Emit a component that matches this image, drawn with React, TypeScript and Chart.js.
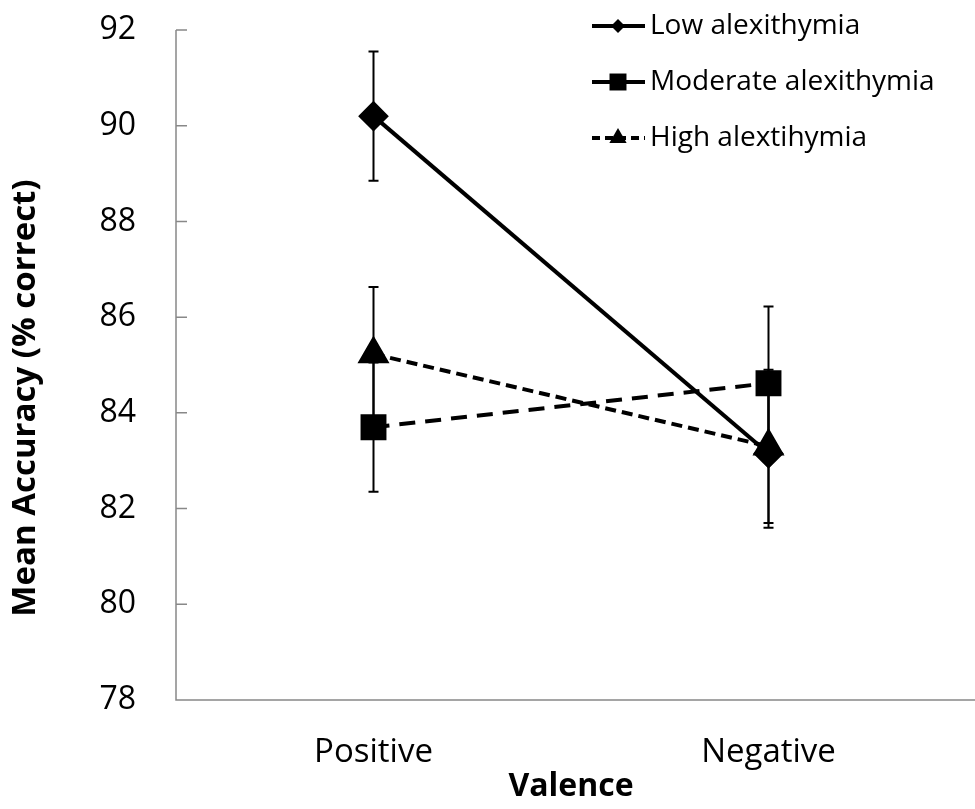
import React, { useRef, useEffect } from 'react';
import { Chart, registerables } from 'chart.js';
import { drawPoint } from 'chart.js/helpers';

Chart.register(...registerables);

const valence = ['Positive', 'Negative'];
const lowMeans = [90.2, 83.15];
const lowErr = [1.35, 1.55];
const moderateMeans = [83.7, 84.62];
const moderateErr = [1.35, 1.6];
const highMeans = [85.23, 83.3];
const highErr = [1.4, 1.6];
const yTicks = [78, 80, 82, 84, 86, 88, 90, 92];

const FONT = "'Open Sans', 'Liberation Sans', sans-serif";
const AXIS_GREY = '#888888';
const Y_TITLE = 'Mean Accuracy (% correct)';

const legendItems = [
  { label: 'Low alexithymia', style: 'rectRot', radius: 7, dash: [] as number[] },
  { label: 'Moderate alexithymia', style: 'rect', radius: 12, dash: [] as number[] },
  { label: 'High alextihymia', style: 'triangle', radius: 10, dash: [8, 5] },
];

const errorBars = {
  id: 'errorBars',
  beforeDatasetsDraw(chart: any) {
    const { ctx } = chart;
    const y = chart.scales.y;
    ctx.save();
    ctx.strokeStyle = '#000';
    ctx.lineWidth = 2;
    chart.data.datasets.forEach((ds: any, i: number) => {
      const meta = chart.getDatasetMeta(i);
      meta.data.forEach((pt: any, j: number) => {
        const v = ds.data[j];
        const e = ds.errors[j];
        const top = y.getPixelForValue(v + e);
        const bot = y.getPixelForValue(v - e);
        ctx.beginPath();
        ctx.moveTo(pt.x, top);
        ctx.lineTo(pt.x, bot);
        ctx.moveTo(pt.x - 5, top);
        ctx.lineTo(pt.x + 5, top);
        ctx.moveTo(pt.x - 5, bot);
        ctx.lineTo(pt.x + 5, bot);
        ctx.stroke();
      });
    });
    ctx.restore();
  },
};

const axesFrame = {
  id: 'axesFrame',
  afterDraw(chart: any) {
    const { ctx, chartArea } = chart;
    const y = chart.scales.y;
    ctx.save();
    ctx.strokeStyle = AXIS_GREY;
    ctx.lineWidth = 1.5;
    ctx.beginPath();
    ctx.moveTo(chartArea.left, chartArea.top);
    ctx.lineTo(chartArea.left, chartArea.bottom);
    ctx.lineTo(chart.width, chartArea.bottom);
    yTicks.forEach((t) => {
      const py = y.getPixelForValue(t);
      ctx.moveTo(chartArea.left, py);
      ctx.lineTo(chartArea.left + 11, py);
    });
    ctx.stroke();

    // y axis title
    ctx.fillStyle = '#000';
    ctx.font = `bold 33px ${FONT}`;
    ctx.textAlign = 'center';
    ctx.textBaseline = 'middle';
    ctx.translate(26, 398);
    ctx.rotate(-Math.PI / 2);
    ctx.fillText(Y_TITLE, 0, 0);
    ctx.restore();
  },
};

const customLegend = {
  id: 'customLegend',
  afterDraw(chart: any) {
    const { ctx } = chart;
    ctx.save();
    legendItems.forEach((item, i) => {
      const cy = 26 + i * 56;
      ctx.strokeStyle = '#000';
      ctx.fillStyle = '#000';
      ctx.lineWidth = 4;
      ctx.setLineDash(item.dash);
      ctx.beginPath();
      ctx.moveTo(592, cy);
      ctx.lineTo(645, cy);
      ctx.stroke();
      ctx.setLineDash([]);
      drawPoint(ctx, { pointStyle: item.style as any, radius: item.radius, rotation: 0, borderWidth: 0 }, 618, cy);
      ctx.font = `28px ${FONT}`;
      ctx.textBaseline = 'middle';
      ctx.textAlign = 'left';
      ctx.fillText(item.label, 650, cy);
    });
    ctx.restore();
  },
};

export default function App() {
  const canvasRef = useRef<HTMLCanvasElement>(null);

  useEffect(() => {
    const ctx = canvasRef.current?.getContext('2d');
    if (!ctx) return;

    const chart = new Chart(ctx, {
      type: 'line',
      data: {
        labels: valence,
        datasets: [
          {
            label: 'Low alexithymia',
            data: lowMeans,
            errors: lowErr,
            borderColor: '#000',
            backgroundColor: '#000',
            borderWidth: 4,
            pointStyle: 'rectRot',
            pointRadius: 12.5,
          } as any,
          {
            label: 'Moderate alexithymia',
            data: moderateMeans,
            errors: moderateErr,
            borderColor: '#000',
            backgroundColor: '#000',
            borderWidth: 4,
            borderDash: [16, 10],
            pointStyle: 'rect',
            pointRadius: 15.5,
          } as any,
          {
            label: 'High alextihymia',
            data: highMeans,
            errors: highErr,
            borderColor: '#000',
            backgroundColor: '#000',
            borderWidth: 4,
            borderDash: [11, 6],
            pointStyle: 'triangle',
            pointRadius: 14.5,
          } as any,
        ],
      },
      options: {
        animation: false,
        responsive: true,
        maintainAspectRatio: false,
        layout: { autoPadding: false, padding: { top: 30, right: 9, left: 0, bottom: 0 } },
        plugins: {
          legend: { display: false },
          tooltip: { enabled: false },
        },
        elements: {
          point: { borderWidth: 0, hoverRadius: 0 },
          line: { tension: 0 },
        },
        scales: {
          x: {
            type: 'category',
            offset: true,
            grid: { display: false, drawTicks: false },
            border: { display: false },
            ticks: {
              color: '#000',
              padding: 33,
              font: { family: FONT, size: 33 },
            },
            title: {
              display: true,
              text: 'Valence',
              color: '#000',
              padding: { top: 0, bottom: 3 },
              font: { family: FONT, size: 32, weight: 'bold' },
            },
            afterFit: (scale: any) => {
              scale.height = 109;
              scale.paddingLeft = 0;
              scale.paddingRight = 0;
            },
          },
          y: {
            min: 78,
            max: 92,
            grid: { display: false, drawTicks: false },
            border: { display: false },
            afterBuildTicks: (scale: any) => {
              scale.ticks = yTicks.map((v) => ({ value: v }));
            },
            ticks: {
              color: '#000',
              padding: 40,
              font: { family: FONT, size: 32 },
            },
            afterFit: (scale: any) => {
              scale.width = 176;
              scale.paddingTop = 0;
              scale.paddingBottom = 0;
            },
          },
        },
      },
      plugins: [errorBars, axesFrame, customLegend],
    });

    return () => chart.destroy();
  }, []);

  return (
    <div style={{ position: 'fixed', left: 0, top: 0, width: 975, height: 809, background: '#fff' }}>
      <canvas ref={canvasRef} />
    </div>
  );
}
